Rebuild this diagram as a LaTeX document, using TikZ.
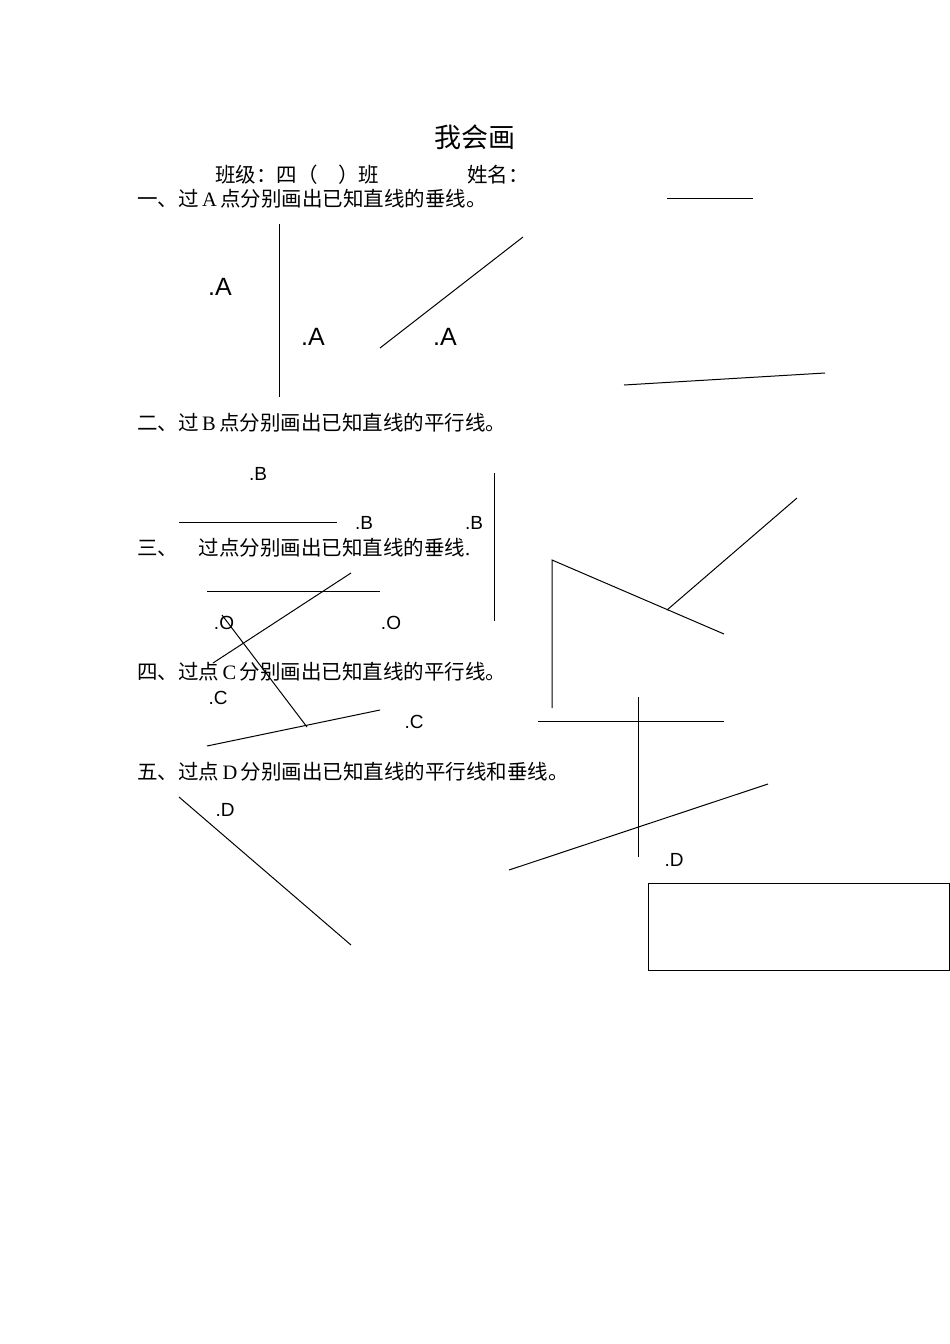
\documentclass[tikz,border=0pt]{standalone}
\usepackage{fontspec}
\setmainfont{Liberation Sans}
\newfontfamily\cjk{Noto Sans CJK SC}
\newfontfamily\ser{Liberation Serif}
\begin{document}
\begin{tikzpicture}[x=1pt,y=-1pt,
  ln/.style={line width=1pt},
  txt/.style={anchor=west,inner sep=0pt,font=\fontsize{20.5}{20.5}\selectfont},
  lab/.style={inner sep=0pt,font=\fontsize{19}{19}\selectfont},
  biglab/.style={inner sep=0pt,font=\fontsize{25}{25}\selectfont}]
\useasboundingbox[fill=white] (0,0) rectangle (950,1344);
\node[inner sep=0pt,font=\cjk\fontsize{27}{27}\selectfont] (title) at (475,137) {我会画};
\node[txt] (cls) at (215,175) {\cjk 班级：四（\quad）班};
\node[txt] (nm) at (467,175) {\cjk 姓名：};
\draw[ln] (667,198) -- (753,198);
\node[txt] (q1) at (137,199) {\cjk 一、过\,{\ser A}\,点分别画出已知直线的垂线。};
\draw[ln] (279,224) -- (279,397);
\draw[ln] (380,348) -- (523,237);
\draw[ln] (624,385) -- (825,373);
\node[biglab] (a1) at (220,287) {.A};
\node[biglab] (a2) at (313,337) {.A};
\node[biglab] (a3) at (445,337) {.A};
\node[txt] (q2) at (137,423) {\cjk 二、过\,{\ser B}\,点分别画出已知直线的平行线。};
\node[lab] (b1) at (258,474) {.B};
\draw[ln] (179,522) -- (337,522);
\node[lab] (b2) at (364,523) {.B};
\node[lab] (b3) at (474,523) {.B};
\draw[ln] (494,473) -- (494,621);
\node[txt] (q3) at (137,548) {\cjk 三、\quad 过点分别画出已知直线的垂线{\ser .}};
\draw[ln] (207,591) -- (380,591);
\draw[ln] (351,573) -- (213,663);
\draw[ln] (222,615) -- (307,727);
\node[lab] (o1) at (224,623) {.O};
\node[lab] (o2) at (391,623) {.O};
\draw[ln] (552,708) -- (552,560) -- (724,634);
\draw[ln] (667,610) -- (797,498);
\node[txt] (q4) at (137,672) {\cjk 四、过点\,{\ser C}\,分别画出已知直线的平行线。};
\node[lab] (c1) at (218,698) {.C};
\draw[ln] (207,746) -- (380,710);
\node[lab] (c2) at (414,722) {.C};
\draw[ln] (538,721) -- (724,721);
\draw[ln] (638,697) -- (638,857);
\node[txt] (q5) at (137,772) {\cjk 五、过点\,{\ser D}\,分别画出已知直线的平行线和垂线。};
\node[lab] (d1) at (225,810) {.D};
\draw[ln] (179,797) -- (351,945);
\draw[ln] (509,870) -- (768,784);
\node[lab] (d2) at (674,860) {.D};
\draw[ln] (648,883) rectangle (949,970);
\end{tikzpicture}
\end{document}
